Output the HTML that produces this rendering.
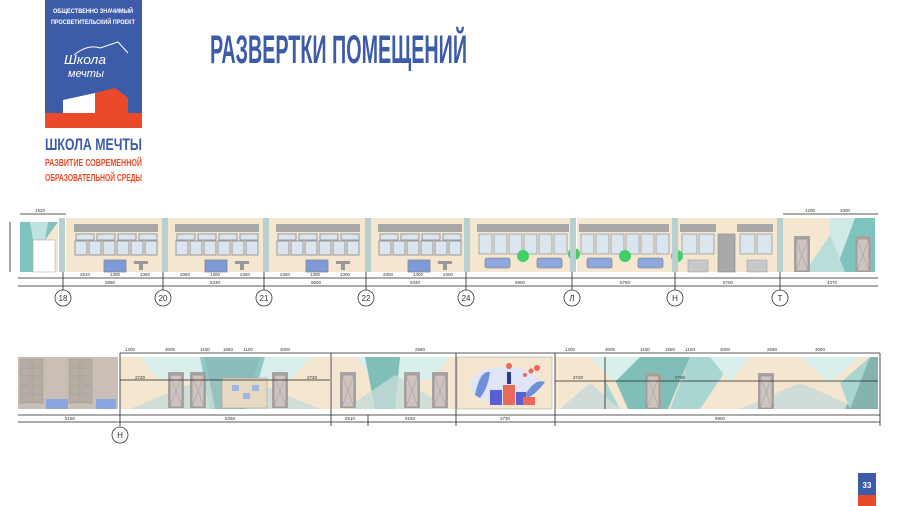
<!DOCTYPE html>
<html><head><meta charset="utf-8"><style>
html,body{margin:0;padding:0;background:#fff;width:900px;height:506px;overflow:hidden}
svg{display:block}
text{font-family:"Liberation Sans","DejaVu Sans",sans-serif}
</style></head><body>
<svg width="900" height="506" viewBox="0 0 900 506" xmlns="http://www.w3.org/2000/svg">
<defs>
<g id="cls">
  <rect x="0" y="0" width="98" height="54" fill="#f4e6cf"/>
  <rect x="8" y="6" width="84" height="8" fill="#a8a8a8"/>
  <g fill="#dbe5f0" stroke="#9a9a9a" stroke-width="1">
    <rect x="10" y="16" width="18" height="6"/><rect x="31" y="16" width="18" height="6"/><rect x="52" y="16" width="18" height="6"/><rect x="73" y="16" width="18" height="6"/>
    <rect x="9" y="23" width="12" height="14"/><rect x="23" y="23" width="12" height="14"/><rect x="37" y="23" width="12" height="14"/><rect x="51" y="23" width="12" height="14"/><rect x="65" y="23" width="12" height="14"/><rect x="79" y="23" width="12" height="14"/>
  </g>
  <rect x="38" y="42" width="22" height="12" fill="#7e9ad6" stroke="#888" stroke-width="0.8"/>
  <rect x="68" y="43" width="14" height="3" fill="#999"/><rect x="73" y="46" width="4" height="6" fill="#999"/>
</g>
<g id="door"><rect x="0" y="0" width="16" height="36" fill="#a9a4a4"/><rect x="2" y="3" width="12" height="32" fill="#cfc3c0" stroke="#888" stroke-width="0.6"/><path d="M2 35 L14 3 M2 3 L14 35" stroke="#999" stroke-width="0.5"/></g>
<g id="shelf"><rect x="0" y="0" width="11" height="8" fill="#b8ada3" stroke="#999" stroke-width="0.5"/></g>
</defs>

<!-- Logo -->
<rect x="45" y="0" width="97" height="118" fill="#3d5ca8"/>
<rect x="45" y="113" width="97" height="15" fill="#e94b2a"/>
<polygon points="63,100 95,93 95,113 63,113" fill="#fff"/>
<polygon points="95,93 115,88 128,98 128,113 95,113" fill="#e94b2a"/>
<text x="93" y="13" font-size="6.5" fill="#fff" text-anchor="middle" font-weight="bold" textLength="80" lengthAdjust="spacingAndGlyphs">ОБЩЕСТВЕННО ЗНАЧИМЫЙ</text>
<text x="93" y="24" font-size="6.5" fill="#fff" text-anchor="middle" font-weight="bold" textLength="84" lengthAdjust="spacingAndGlyphs">ПРОСВЕТИТЕЛЬСКИЙ ПРОЕКТ</text>
<text x="64" y="64" font-size="13" fill="#fff" font-style="italic" font-family="Liberation Serif" textLength="42" lengthAdjust="spacingAndGlyphs">Школа</text>
<text x="68" y="77" font-size="11" fill="#fff" font-style="italic" font-family="Liberation Serif">мечты</text>
<path d="M74 55 Q88 44 100 48 L118 42 L128 53" stroke="#fff" fill="none" stroke-width="1"/>
<text x="45" y="150" font-size="17" fill="#3d5ca8" font-weight="bold" textLength="97" lengthAdjust="spacingAndGlyphs">ШКОЛА МЕЧТЫ</text>
<text x="45" y="166" font-size="10" fill="#e94b2a" font-weight="bold" textLength="97" lengthAdjust="spacingAndGlyphs">РАЗВИТИЕ СОВРЕМЕННОЙ</text>
<text x="45" y="181" font-size="10" fill="#e94b2a" font-weight="bold" textLength="97" lengthAdjust="spacingAndGlyphs">ОБРАЗОВАТЕЛЬНОЙ СРЕДЫ</text>

<!-- Title -->
<text x="210" y="63" font-size="40" fill="#3d5ca8" font-weight="bold" textLength="257" lengthAdjust="spacingAndGlyphs">РАЗВЕРТКИ ПОМЕЩЕНИЙ</text>

<!-- Top elevation -->
<g>
  <rect x="20" y="222" width="38" height="50" fill="#f4e6cf"/>
  <polygon points="20,222 58,222 45,240 33,240 33,272 20,272" fill="#7fc3bd"/>
  <polygon points="30,222 48,222 45,240 33,240" fill="#bfe3e0"/>
  <rect x="33" y="240" width="22" height="32" fill="#fff" stroke="#aaa" stroke-width="0.6"/>
  <use href="#cls" x="66" y="218"/>
  <use href="#cls" x="167" y="218"/>
  <use href="#cls" x="268" y="218"/>
  <use href="#cls" x="370" y="218"/>
  <rect x="470" y="218" width="100" height="54" fill="#f4e6cf"/>
  <rect x="577" y="218" width="95" height="54" fill="#f4e6cf"/>
  <rect x="678" y="218" width="100" height="54" fill="#f4e6cf"/>
  <g fill="#a8a8a8"><rect x="477" y="224" width="92" height="8"/><rect x="579" y="224" width="90" height="8"/><rect x="680" y="224" width="36" height="8"/><rect x="737" y="224" width="36" height="8"/></g>
  <g fill="#dbe5f0" stroke="#9a9a9a" stroke-width="0.8">
    <rect x="479" y="234" width="13" height="20"/><rect x="494" y="234" width="13" height="20"/><rect x="509" y="234" width="13" height="20"/><rect x="524" y="234" width="13" height="20"/><rect x="539" y="234" width="13" height="20"/><rect x="554" y="234" width="13" height="20"/>
    <rect x="581" y="234" width="13" height="20"/><rect x="596" y="234" width="13" height="20"/><rect x="611" y="234" width="13" height="20"/><rect x="626" y="234" width="13" height="20"/><rect x="641" y="234" width="13" height="20"/><rect x="656" y="234" width="13" height="20"/>
    <rect x="682" y="234" width="15" height="20"/><rect x="699" y="234" width="15" height="20"/>
    <rect x="740" y="234" width="15" height="20"/><rect x="757" y="234" width="15" height="20"/>
  </g>
  <rect x="718" y="234" width="17" height="38" fill="#a9a9a9" stroke="#888" stroke-width="0.6"/>
  <g fill="#8ea8dd" stroke="#777" stroke-width="0.6">
    <rect x="485" y="258" width="25" height="10" rx="2"/><rect x="537" y="258" width="25" height="10" rx="2"/>
    <rect x="587" y="258" width="25" height="10" rx="2"/><rect x="638" y="258" width="25" height="10" rx="2"/>
  </g>
  <g fill="#c8c8c8" stroke="#999" stroke-width="0.5"><rect x="688" y="260" width="20" height="12"/><rect x="747" y="260" width="20" height="12"/></g>
  <g fill="#3fd06a"><circle cx="523" cy="256" r="6"/><circle cx="574" cy="254" r="6"/><circle cx="625" cy="256" r="6"/><circle cx="677" cy="256" r="6"/></g>
  <rect x="783" y="218" width="92" height="54" fill="#f4e6cf"/>
  <polygon points="830,218 875,218 875,272 830,272" fill="#cfe9e6"/>
  <polygon points="855,218 875,218 875,272 835,272" fill="#7fc3bd"/>
  <polygon points="805,272 830,235 845,272" fill="#b9ddd9"/>
  <use href="#door" x="794" y="236"/><use href="#door" x="855" y="236"/>
  <g fill="#b7cfcf"><rect x="59" y="218" width="6" height="54"/><rect x="162" y="218" width="6" height="54"/><rect x="263" y="218" width="6" height="54"/><rect x="365" y="218" width="6" height="54"/><rect x="464" y="218" width="6" height="54"/><rect x="570" y="218" width="6" height="54"/><rect x="672" y="218" width="6" height="54"/><rect x="777" y="218" width="6" height="54"/></g>
  <g stroke="#222" stroke-width="0.8">
    <line x1="18" y1="278" x2="878" y2="278"/><line x1="18" y1="286" x2="878" y2="286"/>
    <line x1="10" y1="222" x2="10" y2="272"/><line x1="20" y1="214" x2="66" y2="214"/><line x1="783" y1="214" x2="878" y2="214"/>
    <line x1="63" y1="272" x2="63" y2="290"/><line x1="163" y1="272" x2="163" y2="290"/><line x1="264" y1="272" x2="264" y2="290"/><line x1="366" y1="272" x2="366" y2="290"/><line x1="466" y1="272" x2="466" y2="290"/><line x1="572" y1="272" x2="572" y2="290"/><line x1="675" y1="272" x2="675" y2="290"/><line x1="780" y1="272" x2="780" y2="290"/>
  </g>
  <g font-size="4.5" fill="#333" text-anchor="middle">
    <text x="110" y="284">3890</text><text x="215" y="284">5330</text><text x="316" y="284">5600</text><text x="415" y="284">5340</text><text x="520" y="284">5900</text><text x="625" y="284">5750</text><text x="728" y="284">5700</text><text x="832" y="284">4370</text>
    <text x="85" y="276">2510</text><text x="115" y="276">1300</text><text x="145" y="276">2350</text><text x="185" y="276">2060</text><text x="215" y="276">1300</text><text x="245" y="276">2350</text><text x="285" y="276">2350</text><text x="315" y="276">1300</text><text x="345" y="276">2300</text><text x="388" y="276">2300</text><text x="418" y="276">1300</text><text x="448" y="276">2300</text>
    <text x="40" y="212">1520</text><text x="810" y="212">1200</text><text x="845" y="212">3300</text>
  </g>
  <g fill="#fff" stroke="#333" stroke-width="0.8"><circle cx="63" cy="298" r="8"/><circle cx="163" cy="298" r="8"/><circle cx="264" cy="298" r="8"/><circle cx="366" cy="298" r="8"/><circle cx="466" cy="298" r="8"/><circle cx="572" cy="298" r="8"/><circle cx="675" cy="298" r="8"/><circle cx="780" cy="298" r="8"/></g>
  <g font-size="8" fill="#333" text-anchor="middle"><text x="63" y="301">18</text><text x="163" y="301">20</text><text x="264" y="301">21</text><text x="366" y="301">22</text><text x="466" y="301">24</text><text x="572" y="301">Л</text><text x="675" y="301">Н</text><text x="780" y="301">Т</text></g>
</g>

<!-- Bottom elevation -->
<g>
  <rect x="18" y="357" width="100" height="52" fill="#c9bfb6"/>
  <use href="#shelf" x="20" y="359"/><use href="#shelf" x="32" y="359"/><use href="#shelf" x="20" y="368"/><use href="#shelf" x="32" y="368"/><use href="#shelf" x="20" y="377"/><use href="#shelf" x="32" y="377"/><use href="#shelf" x="20" y="386"/><use href="#shelf" x="32" y="386"/><use href="#shelf" x="20" y="395"/><use href="#shelf" x="32" y="395"/>
  <use href="#shelf" x="69" y="359"/><use href="#shelf" x="81" y="359"/><use href="#shelf" x="69" y="368"/><use href="#shelf" x="81" y="368"/><use href="#shelf" x="69" y="377"/><use href="#shelf" x="81" y="377"/><use href="#shelf" x="69" y="386"/><use href="#shelf" x="81" y="386"/><use href="#shelf" x="69" y="395"/><use href="#shelf" x="81" y="395"/>
  <rect x="46" y="399" width="22" height="10" fill="#8aa6e0"/><rect x="96" y="399" width="20" height="10" fill="#8aa6e0"/>
  <rect x="120" y="357" width="210" height="52" fill="#f4e6cf"/>
  <polygon points="140,357 310,357 290,380 160,380" fill="#d9efec"/>
  <polygon points="200,357 265,357 250,409 210,409" fill="#8ec9c3"/>
  <polygon points="130,409 200,380 250,380 320,409" fill="#c6dcd8" opacity="0.8"/>
  <polygon points="205,357 260,357 245,409 215,409" fill="#8ab7b2" opacity="0.7"/>
  <use href="#door" x="168" y="372"/><use href="#door" x="190" y="372"/><use href="#door" x="272" y="372"/>
  <rect x="222" y="378" width="45" height="30" fill="#e8d9c3" stroke="#999" stroke-width="0.5"/>
  <g fill="#9fb6e8"><rect x="232" y="385" width="7" height="6"/><rect x="252" y="385" width="7" height="6"/><rect x="243" y="393" width="7" height="6"/></g>
  <rect x="331" y="357" width="125" height="52" fill="#f4e6cf"/>
  <polygon points="355,357 450,357 430,380 375,380" fill="#d9efec"/>
  <polygon points="365,357 400,357 395,409 375,409" fill="#7fbfb8"/>
  <polygon points="345,409 395,375 450,409" fill="#c6dcd8" opacity="0.8"/>
  <use href="#door" x="340" y="372"/><use href="#door" x="404" y="372"/><use href="#door" x="432" y="372"/>
  <rect x="457" y="357" width="95" height="52" fill="#f4e6cf" stroke="#aaa" stroke-width="0.6"/>
  <ellipse cx="505" cy="385" rx="35" ry="18" fill="#dfe4f7"/>
  <g fill="#6f8fdb"><path d="M475 395 Q480 370 490 372 Q488 388 480 398Z"/><path d="M525 395 Q535 378 545 382 Q538 392 528 398Z"/></g>
  <rect x="490" y="390" width="12" height="15" fill="#5860d3"/><rect x="503" y="385" width="12" height="20" fill="#ea6a5a"/><rect x="516" y="392" width="10" height="13" fill="#5860d3"/><rect x="523" y="397" width="12" height="8" fill="#ea6a5a"/>
  <circle cx="509" cy="366" r="3" fill="#ea6a5a"/><rect x="507" y="372" width="4" height="12" fill="#2b3a8f"/>
  <g fill="#ea6a5a"><circle cx="525" cy="375" r="2"/><circle cx="531" cy="371" r="2.5"/><circle cx="537" cy="368" r="3"/></g>
  <rect x="555" y="357" width="323" height="52" fill="#f4e6cf"/>
  <polygon points="605,357 690,357 668,409 628,409" fill="#7fbfb8"/>
  <polygon points="605,357 605,380 620,409 605,409" fill="#a9d6d1"/>
  <polygon points="690,357 735,357 700,409 670,409" fill="#a9d6d1"/>
  <polygon points="590,357 640,357 615,382" fill="#d9efec"/>
  <polygon points="710,357 750,357 730,382" fill="#d9efec"/>
  <polygon points="740,409 800,383 860,409" fill="#cfdcd8"/>
  <polygon points="800,357 860,357 830,383" fill="#d9efec"/>
  <polygon points="845,409 870,357 878,357 878,409" fill="#86b3ad"/>
  <polygon points="840,383 870,357 850,409" fill="#a9d6d1"/>
  <polygon points="560,409 590,383 620,409" fill="#cfdcd8"/>
  <use href="#door" x="645" y="373"/><use href="#door" x="758" y="373"/>
  <g stroke="#222" stroke-width="0.8">
    <line x1="120" y1="353" x2="880" y2="353"/><line x1="18" y1="415" x2="880" y2="415"/><line x1="18" y1="422" x2="880" y2="422"/>
    <line x1="120" y1="353" x2="120" y2="426"/><line x1="331" y1="353" x2="331" y2="426"/><line x1="368" y1="415" x2="368" y2="426"/><line x1="456" y1="353" x2="456" y2="426"/><line x1="555" y1="353" x2="555" y2="426"/><line x1="880" y1="353" x2="880" y2="426"/>
    <line x1="120" y1="380" x2="330" y2="380"/><line x1="555" y1="381" x2="878" y2="381"/><line x1="605" y1="357" x2="605" y2="409"/>
  </g>
  <g font-size="4.5" fill="#333" text-anchor="middle">
    <text x="70" y="420">5180</text><text x="230" y="420">5258</text><text x="350" y="420">2510</text><text x="410" y="420">5150</text><text x="505" y="420">3730</text><text x="720" y="420">9800</text>
    <text x="130" y="351">1200</text><text x="170" y="351">3000</text><text x="205" y="351">1100</text><text x="228" y="351">1650</text><text x="248" y="351">1100</text><text x="285" y="351">3000</text><text x="420" y="351">2580</text>
    <text x="570" y="351">1200</text><text x="610" y="351">3000</text><text x="645" y="351">1100</text><text x="670" y="351">1650</text><text x="690" y="351">1100</text><text x="725" y="351">3000</text><text x="772" y="351">2590</text><text x="820" y="351">3000</text>
    <text x="140" y="379">2720</text><text x="312" y="379">2720</text><text x="578" y="379">2720</text><text x="680" y="379">2700</text>
  </g>
  <circle cx="120" cy="435" r="8" fill="#fff" stroke="#333" stroke-width="0.8"/>
  <text x="120" y="438" font-size="8" fill="#333" text-anchor="middle">Н</text>
</g>

<rect x="858" y="473" width="18" height="22" fill="#3d5ca8"/>
<rect x="858" y="495" width="18" height="11" fill="#e94b2a"/>
<text x="867" y="488" font-size="8" fill="#fff" text-anchor="middle" font-weight="bold">33</text>
</svg>
</body></html>
